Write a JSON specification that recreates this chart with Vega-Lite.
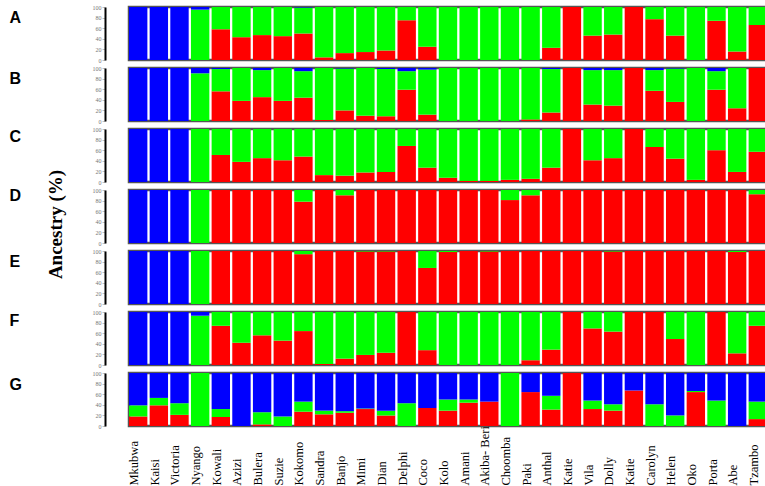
{
"$schema": "https://vega.github.io/schema/vega-lite/v6.json",
"background": "white",
"padding": {"left": 7, "top": 2, "right": 0, "bottom": 0},
"spacing": 8,
"bounds": "flush",
"datasets": {
"d": [
{"p":"A","n":1,"k1":0,"k2":0,"k3":100},{"p":"A","n":2,"k1":0,"k2":0,"k3":100},{"p":"A","n":3,"k1":0,"k2":0,"k3":100},{"p":"A","n":4,"k1":0,"k2":95,"k3":5},{"p":"A","n":5,"k1":58,"k2":42,"k3":0},{"p":"A","n":6,"k1":43,"k2":57,"k3":0},{"p":"A","n":7,"k1":47,"k2":53,"k3":0},{"p":"A","n":8,"k1":45,"k2":55,"k3":0},{"p":"A","n":9,"k1":50,"k2":49,"k3":1},{"p":"A","n":10,"k1":5,"k2":95,"k3":0},{"p":"A","n":11,"k1":13,"k2":87,"k3":0},{"p":"A","n":12,"k1":15,"k2":85,"k3":0},{"p":"A","n":13,"k1":18,"k2":82,"k3":0},{"p":"A","n":14,"k1":75,"k2":25,"k3":0},{"p":"A","n":15,"k1":25,"k2":75,"k3":0},{"p":"A","n":16,"k1":0,"k2":100,"k3":0},{"p":"A","n":17,"k1":0,"k2":100,"k3":0},{"p":"A","n":18,"k1":0,"k2":100,"k3":0},{"p":"A","n":19,"k1":0,"k2":100,"k3":0},{"p":"A","n":20,"k1":0,"k2":100,"k3":0},{"p":"A","n":21,"k1":23,"k2":77,"k3":0},{"p":"A","n":22,"k1":100,"k2":0,"k3":0},{"p":"A","n":23,"k1":46,"k2":54,"k3":0},{"p":"A","n":24,"k1":48,"k2":52,"k3":0},{"p":"A","n":25,"k1":100,"k2":0,"k3":0},{"p":"A","n":26,"k1":77,"k2":23,"k3":0},{"p":"A","n":27,"k1":46,"k2":54,"k3":0},{"p":"A","n":28,"k1":0,"k2":100,"k3":0},{"p":"A","n":29,"k1":74,"k2":26,"k3":0},{"p":"A","n":30,"k1":16,"k2":84,"k3":0},{"p":"A","n":31,"k1":66,"k2":34,"k3":0},
{"p":"B","n":1,"k1":0,"k2":0,"k3":100},{"p":"B","n":2,"k1":0,"k2":0,"k3":100},{"p":"B","n":3,"k1":0,"k2":0,"k3":100},{"p":"B","n":4,"k1":0,"k2":90,"k3":10},{"p":"B","n":5,"k1":56,"k2":42,"k3":2},{"p":"B","n":6,"k1":38,"k2":62,"k3":0},{"p":"B","n":7,"k1":45,"k2":51,"k3":4},{"p":"B","n":8,"k1":38,"k2":62,"k3":0},{"p":"B","n":9,"k1":44,"k2":50,"k3":6},{"p":"B","n":10,"k1":2,"k2":98,"k3":0},{"p":"B","n":11,"k1":20,"k2":79,"k3":1},{"p":"B","n":12,"k1":10,"k2":90,"k3":0},{"p":"B","n":13,"k1":9,"k2":89,"k3":2},{"p":"B","n":14,"k1":59,"k2":35,"k3":6},{"p":"B","n":15,"k1":12,"k2":85,"k3":3},{"p":"B","n":16,"k1":0,"k2":100,"k3":0},{"p":"B","n":17,"k1":0,"k2":100,"k3":0},{"p":"B","n":18,"k1":0,"k2":100,"k3":0},{"p":"B","n":19,"k1":0,"k2":100,"k3":0},{"p":"B","n":20,"k1":3,"k2":97,"k3":0},{"p":"B","n":21,"k1":16,"k2":82,"k3":2},{"p":"B","n":22,"k1":100,"k2":0,"k3":0},{"p":"B","n":23,"k1":31,"k2":65,"k3":4},{"p":"B","n":24,"k1":29,"k2":67,"k3":4},{"p":"B","n":25,"k1":100,"k2":0,"k3":0},{"p":"B","n":26,"k1":57,"k2":39,"k3":4},{"p":"B","n":27,"k1":36,"k2":63,"k3":1},{"p":"B","n":28,"k1":0,"k2":100,"k3":0},{"p":"B","n":29,"k1":59,"k2":35,"k3":6},{"p":"B","n":30,"k1":24,"k2":76,"k3":0},{"p":"B","n":31,"k1":100,"k2":0,"k3":0},
{"p":"C","n":1,"k1":0,"k2":0,"k3":100},{"p":"C","n":2,"k1":0,"k2":0,"k3":100},{"p":"C","n":3,"k1":0,"k2":0,"k3":100},{"p":"C","n":4,"k1":0,"k2":100,"k3":0},{"p":"C","n":5,"k1":51,"k2":49,"k3":0},{"p":"C","n":6,"k1":38,"k2":62,"k3":0},{"p":"C","n":7,"k1":45,"k2":55,"k3":0},{"p":"C","n":8,"k1":41,"k2":59,"k3":0},{"p":"C","n":9,"k1":48,"k2":52,"k3":0},{"p":"C","n":10,"k1":13,"k2":87,"k3":0},{"p":"C","n":11,"k1":12,"k2":88,"k3":0},{"p":"C","n":12,"k1":18,"k2":82,"k3":0},{"p":"C","n":13,"k1":19,"k2":81,"k3":0},{"p":"C","n":14,"k1":68,"k2":32,"k3":0},{"p":"C","n":15,"k1":27,"k2":73,"k3":0},{"p":"C","n":16,"k1":8,"k2":92,"k3":0},{"p":"C","n":17,"k1":2,"k2":98,"k3":0},{"p":"C","n":18,"k1":2,"k2":98,"k3":0},{"p":"C","n":19,"k1":4,"k2":96,"k3":0},{"p":"C","n":20,"k1":6,"k2":94,"k3":0},{"p":"C","n":21,"k1":27,"k2":73,"k3":0},{"p":"C","n":22,"k1":100,"k2":0,"k3":0},{"p":"C","n":23,"k1":41,"k2":59,"k3":0},{"p":"C","n":24,"k1":45,"k2":55,"k3":0},{"p":"C","n":25,"k1":100,"k2":0,"k3":0},{"p":"C","n":26,"k1":66,"k2":34,"k3":0},{"p":"C","n":27,"k1":44,"k2":56,"k3":0},{"p":"C","n":28,"k1":4,"k2":96,"k3":0},{"p":"C","n":29,"k1":60,"k2":40,"k3":0},{"p":"C","n":30,"k1":19,"k2":81,"k3":0},{"p":"C","n":31,"k1":57,"k2":43,"k3":0},
{"p":"D","n":1,"k1":0,"k2":0,"k3":100},{"p":"D","n":2,"k1":0,"k2":0,"k3":100},{"p":"D","n":3,"k1":0,"k2":0,"k3":100},{"p":"D","n":4,"k1":0,"k2":100,"k3":0},{"p":"D","n":5,"k1":100,"k2":0,"k3":0},{"p":"D","n":6,"k1":100,"k2":0,"k3":0},{"p":"D","n":7,"k1":100,"k2":0,"k3":0},{"p":"D","n":8,"k1":100,"k2":0,"k3":0},{"p":"D","n":9,"k1":78,"k2":22,"k3":0},{"p":"D","n":10,"k1":100,"k2":0,"k3":0},{"p":"D","n":11,"k1":90,"k2":10,"k3":0},{"p":"D","n":12,"k1":100,"k2":0,"k3":0},{"p":"D","n":13,"k1":100,"k2":0,"k3":0},{"p":"D","n":14,"k1":100,"k2":0,"k3":0},{"p":"D","n":15,"k1":100,"k2":0,"k3":0},{"p":"D","n":16,"k1":100,"k2":0,"k3":0},{"p":"D","n":17,"k1":100,"k2":0,"k3":0},{"p":"D","n":18,"k1":100,"k2":0,"k3":0},{"p":"D","n":19,"k1":81,"k2":19,"k3":0},{"p":"D","n":20,"k1":90,"k2":10,"k3":0},{"p":"D","n":21,"k1":100,"k2":0,"k3":0},{"p":"D","n":22,"k1":100,"k2":0,"k3":0},{"p":"D","n":23,"k1":100,"k2":0,"k3":0},{"p":"D","n":24,"k1":100,"k2":0,"k3":0},{"p":"D","n":25,"k1":100,"k2":0,"k3":0},{"p":"D","n":26,"k1":100,"k2":0,"k3":0},{"p":"D","n":27,"k1":100,"k2":0,"k3":0},{"p":"D","n":28,"k1":100,"k2":0,"k3":0},{"p":"D","n":29,"k1":100,"k2":0,"k3":0},{"p":"D","n":30,"k1":100,"k2":0,"k3":0},{"p":"D","n":31,"k1":92,"k2":8,"k3":0},
{"p":"E","n":1,"k1":0,"k2":0,"k3":100},{"p":"E","n":2,"k1":0,"k2":0,"k3":100},{"p":"E","n":3,"k1":0,"k2":0,"k3":100},{"p":"E","n":4,"k1":0,"k2":100,"k3":0},{"p":"E","n":5,"k1":100,"k2":0,"k3":0},{"p":"E","n":6,"k1":100,"k2":0,"k3":0},{"p":"E","n":7,"k1":100,"k2":0,"k3":0},{"p":"E","n":8,"k1":100,"k2":0,"k3":0},{"p":"E","n":9,"k1":94,"k2":6,"k3":0},{"p":"E","n":10,"k1":100,"k2":0,"k3":0},{"p":"E","n":11,"k1":100,"k2":0,"k3":0},{"p":"E","n":12,"k1":99,"k2":1,"k3":0},{"p":"E","n":13,"k1":99,"k2":1,"k3":0},{"p":"E","n":14,"k1":100,"k2":0,"k3":0},{"p":"E","n":15,"k1":68,"k2":32,"k3":0},{"p":"E","n":16,"k1":98,"k2":2,"k3":0},{"p":"E","n":17,"k1":100,"k2":0,"k3":0},{"p":"E","n":18,"k1":99,"k2":1,"k3":0},{"p":"E","n":19,"k1":100,"k2":0,"k3":0},{"p":"E","n":20,"k1":100,"k2":0,"k3":0},{"p":"E","n":21,"k1":100,"k2":0,"k3":0},{"p":"E","n":22,"k1":100,"k2":0,"k3":0},{"p":"E","n":23,"k1":100,"k2":0,"k3":0},{"p":"E","n":24,"k1":99,"k2":1,"k3":0},{"p":"E","n":25,"k1":100,"k2":0,"k3":0},{"p":"E","n":26,"k1":100,"k2":0,"k3":0},{"p":"E","n":27,"k1":100,"k2":0,"k3":0},{"p":"E","n":28,"k1":100,"k2":0,"k3":0},{"p":"E","n":29,"k1":100,"k2":0,"k3":0},{"p":"E","n":30,"k1":98,"k2":2,"k3":0},{"p":"E","n":31,"k1":100,"k2":0,"k3":0},
{"p":"F","n":1,"k1":0,"k2":0,"k3":100},{"p":"F","n":2,"k1":0,"k2":0,"k3":100},{"p":"F","n":3,"k1":0,"k2":0,"k3":100},{"p":"F","n":4,"k1":0,"k2":93,"k3":7},{"p":"F","n":5,"k1":74,"k2":26,"k3":0},{"p":"F","n":6,"k1":42,"k2":58,"k3":0},{"p":"F","n":7,"k1":56,"k2":44,"k3":0},{"p":"F","n":8,"k1":46,"k2":54,"k3":0},{"p":"F","n":9,"k1":64,"k2":36,"k3":0},{"p":"F","n":10,"k1":2,"k2":98,"k3":0},{"p":"F","n":11,"k1":12,"k2":88,"k3":0},{"p":"F","n":12,"k1":19,"k2":81,"k3":0},{"p":"F","n":13,"k1":23,"k2":77,"k3":0},{"p":"F","n":14,"k1":100,"k2":0,"k3":0},{"p":"F","n":15,"k1":28,"k2":72,"k3":0},{"p":"F","n":16,"k1":0,"k2":100,"k3":0},{"p":"F","n":17,"k1":0,"k2":100,"k3":0},{"p":"F","n":18,"k1":0,"k2":100,"k3":0},{"p":"F","n":19,"k1":0,"k2":100,"k3":0},{"p":"F","n":20,"k1":9,"k2":91,"k3":0},{"p":"F","n":21,"k1":29,"k2":71,"k3":0},{"p":"F","n":22,"k1":100,"k2":0,"k3":0},{"p":"F","n":23,"k1":69,"k2":31,"k3":0},{"p":"F","n":24,"k1":63,"k2":37,"k3":0},{"p":"F","n":25,"k1":100,"k2":0,"k3":0},{"p":"F","n":26,"k1":100,"k2":0,"k3":0},{"p":"F","n":27,"k1":49,"k2":51,"k3":0},{"p":"F","n":28,"k1":0,"k2":100,"k3":0},{"p":"F","n":29,"k1":100,"k2":0,"k3":0},{"p":"F","n":30,"k1":22,"k2":78,"k3":0},{"p":"F","n":31,"k1":74,"k2":26,"k3":0},
{"p":"G","n":1,"k1":18,"k2":21,"k3":61},{"p":"G","n":2,"k1":39,"k2":14,"k3":47},{"p":"G","n":3,"k1":21,"k2":22,"k3":57},{"p":"G","n":4,"k1":0,"k2":100,"k3":0},{"p":"G","n":5,"k1":17,"k2":15,"k3":68},{"p":"G","n":6,"k1":0,"k2":0,"k3":100},{"p":"G","n":7,"k1":3,"k2":23,"k3":74},{"p":"G","n":8,"k1":0,"k2":18,"k3":82},{"p":"G","n":9,"k1":27,"k2":19,"k3":54},{"p":"G","n":10,"k1":22,"k2":7,"k3":71},{"p":"G","n":11,"k1":25,"k2":3,"k3":72},{"p":"G","n":12,"k1":32,"k2":1,"k3":67},{"p":"G","n":13,"k1":20,"k2":9,"k3":71},{"p":"G","n":14,"k1":0,"k2":43,"k3":57},{"p":"G","n":15,"k1":34,"k2":0,"k3":66},{"p":"G","n":16,"k1":29,"k2":21,"k3":50},{"p":"G","n":17,"k1":44,"k2":6,"k3":50},{"p":"G","n":18,"k1":46,"k2":0,"k3":54},{"p":"G","n":19,"k1":0,"k2":100,"k3":0},{"p":"G","n":20,"k1":64,"k2":0,"k3":36},{"p":"G","n":21,"k1":31,"k2":26,"k3":43},{"p":"G","n":22,"k1":100,"k2":0,"k3":0},{"p":"G","n":23,"k1":32,"k2":16,"k3":52},{"p":"G","n":24,"k1":29,"k2":12,"k3":59},{"p":"G","n":25,"k1":67,"k2":0,"k3":33},{"p":"G","n":26,"k1":0,"k2":41,"k3":59},{"p":"G","n":27,"k1":0,"k2":20,"k3":80},{"p":"G","n":28,"k1":64,"k2":2,"k3":34},{"p":"G","n":29,"k1":0,"k2":48,"k3":52},{"p":"G","n":30,"k1":0,"k2":0,"k3":100},{"p":"G","n":31,"k1":13,"k2":33,"k3":54}
]
},
"data": {"name": "d"},
"vconcat": [
{"width": 638, "height": 53,
 "transform": [{"filter": "datum.p == 'A'"}, {"fold": ["k1","k2","k3"], "as": ["k","v"]}],
 "mark": {"type": "bar"},
 "encoding": {
  "x": {"field": "n", "type": "ordinal", "scale": {"paddingInner": 0.11, "paddingOuter": 0}, "axis": null},
  "y": {"field": "v", "type": "quantitative", "stack": "zero", "scale": {"domain": [0,100], "nice": false}, "axis": {"title": "A", "titleY": 10, "values": [0,20,40,60,80,100]}},
  "color": {"field": "k", "type": "nominal", "scale": {"domain": ["k1","k2","k3"], "range": ["#ff0000","#00ff00","#0000ff"]}, "legend": null},
  "order": {"field": "k", "sort": "ascending"}
 }},
{"width": 638, "height": 53,
 "transform": [{"filter": "datum.p == 'B'"}, {"fold": ["k1","k2","k3"], "as": ["k","v"]}],
 "mark": {"type": "bar"},
 "encoding": {
  "x": {"field": "n", "type": "ordinal", "scale": {"paddingInner": 0.11, "paddingOuter": 0}, "axis": null},
  "y": {"field": "v", "type": "quantitative", "stack": "zero", "scale": {"domain": [0,100], "nice": false}, "axis": {"title": "B", "titleY": 10, "values": [0,20,40,60,80,100]}},
  "color": {"field": "k", "type": "nominal", "scale": {"domain": ["k1","k2","k3"], "range": ["#ff0000","#00ff00","#0000ff"]}, "legend": null},
  "order": {"field": "k", "sort": "ascending"}
 }},
{"width": 638, "height": 53,
 "transform": [{"filter": "datum.p == 'C'"}, {"fold": ["k1","k2","k3"], "as": ["k","v"]}],
 "mark": {"type": "bar"},
 "encoding": {
  "x": {"field": "n", "type": "ordinal", "scale": {"paddingInner": 0.11, "paddingOuter": 0}, "axis": null},
  "y": {"field": "v", "type": "quantitative", "stack": "zero", "scale": {"domain": [0,100], "nice": false}, "axis": {"title": "C", "titleY": 7, "values": [0,20,40,60,80,100]}},
  "color": {"field": "k", "type": "nominal", "scale": {"domain": ["k1","k2","k3"], "range": ["#ff0000","#00ff00","#0000ff"]}, "legend": null},
  "order": {"field": "k", "sort": "ascending"}
 }},
{"width": 638, "height": 53,
 "transform": [{"filter": "datum.p == 'D'"}, {"fold": ["k1","k2","k3"], "as": ["k","v"]}],
 "mark": {"type": "bar"},
 "encoding": {
  "x": {"field": "n", "type": "ordinal", "scale": {"paddingInner": 0.11, "paddingOuter": 0}, "axis": {"title": "Ancestry (%)", "labels": false, "ticks": false, "domain": false, "titleAngle": 270, "titleX": -74, "titleY": -19, "titleFont": "Liberation Serif", "titleFontSize": 19, "titleFontWeight": "bold", "titleColor": "#000", "titleAlign": "center", "titleBaseline": "middle"}},
  "y": {"field": "v", "type": "quantitative", "stack": "zero", "scale": {"domain": [0,100], "nice": false}, "axis": {"title": "D", "titleY": 5, "values": [0,20,40,60,80,100]}},
  "color": {"field": "k", "type": "nominal", "scale": {"domain": ["k1","k2","k3"], "range": ["#ff0000","#00ff00","#0000ff"]}, "legend": null},
  "order": {"field": "k", "sort": "ascending"}
 }},
{"width": 638, "height": 53,
 "transform": [{"filter": "datum.p == 'E'"}, {"fold": ["k1","k2","k3"], "as": ["k","v"]}],
 "mark": {"type": "bar"},
 "encoding": {
  "x": {"field": "n", "type": "ordinal", "scale": {"paddingInner": 0.11, "paddingOuter": 0}, "axis": null},
  "y": {"field": "v", "type": "quantitative", "stack": "zero", "scale": {"domain": [0,100], "nice": false}, "axis": {"title": "E", "titleY": 10, "values": [0,20,40,60,80,100]}},
  "color": {"field": "k", "type": "nominal", "scale": {"domain": ["k1","k2","k3"], "range": ["#ff0000","#00ff00","#0000ff"]}, "legend": null},
  "order": {"field": "k", "sort": "ascending"}
 }},
{"width": 638, "height": 53,
 "transform": [{"filter": "datum.p == 'F'"}, {"fold": ["k1","k2","k3"], "as": ["k","v"]}],
 "mark": {"type": "bar"},
 "encoding": {
  "x": {"field": "n", "type": "ordinal", "scale": {"paddingInner": 0.11, "paddingOuter": 0}, "axis": null},
  "y": {"field": "v", "type": "quantitative", "stack": "zero", "scale": {"domain": [0,100], "nice": false}, "axis": {"title": "F", "titleY": 8, "values": [0,20,40,60,80,100]}},
  "color": {"field": "k", "type": "nominal", "scale": {"domain": ["k1","k2","k3"], "range": ["#ff0000","#00ff00","#0000ff"]}, "legend": null},
  "order": {"field": "k", "sort": "ascending"}
 }},
{"width": 638, "height": 53,
 "transform": [{"filter": "datum.p == 'G'"}, {"fold": ["k1","k2","k3"], "as": ["k","v"]}],
 "mark": {"type": "bar"},
 "encoding": {
  "x": {"field": "n", "type": "ordinal", "scale": {"paddingInner": 0.11, "paddingOuter": 0}, "axis": {"title": null, "labelAngle": 270, "labelAlign": "left", "labelBaseline": "alphabetic", "labelPadding": 59, "ticks": false, "domain": false, "labelFont": "Liberation Serif", "labelFontSize": 12.5, "labelColor": "#000", "labelOverlap": false, "labelBound": false, "labelExpr": "['Mkubwa','Kaisi','Victoria','Nyango','Kowali','Azizi','Bulera','Suzie','Kokomo','Sandra','Banjo','Mimi','Dian','Delphi','Coco','Kolo','Amani','Akiba- Beri','Choomba','Paki','Anthal','Katie','Vila','Dolly','Katie','Carolyn','Helen','Oko','Porta','Abe','Tzambo'][datum.value - 1]"}},
  "y": {"field": "v", "type": "quantitative", "stack": "zero", "scale": {"domain": [0,100], "nice": false}, "axis": {"title": "G", "titleY": 11, "values": [0,20,40,60,80,100]}},
  "color": {"field": "k", "type": "nominal", "scale": {"domain": ["k1","k2","k3"], "range": ["#ff0000","#00ff00","#0000ff"]}, "legend": null},
  "order": {"field": "k", "sort": "ascending"}
 }}
],
"config": {
 "view": {"stroke": "#555555", "strokeWidth": 2.5},
 "axisY": {"offset": 24, "grid": false, "domainColor": "#000000", "domainWidth": 2, "tickColor": "#999999", "tickSize": 3, "tickWidth": 0.6, "labelFontSize": 6, "labelColor": "#777777", "labelFont": "Liberation Serif", "labelPadding": 1, "titleAngle": 0, "titleFont": "Liberation Sans", "titleFontWeight": "bold", "titleFontSize": 16, "titleColor": "#000000", "titleX": -96, "titleAlign": "left", "titleBaseline": "middle"},
 "axisX": {"grid": false}
}
}
